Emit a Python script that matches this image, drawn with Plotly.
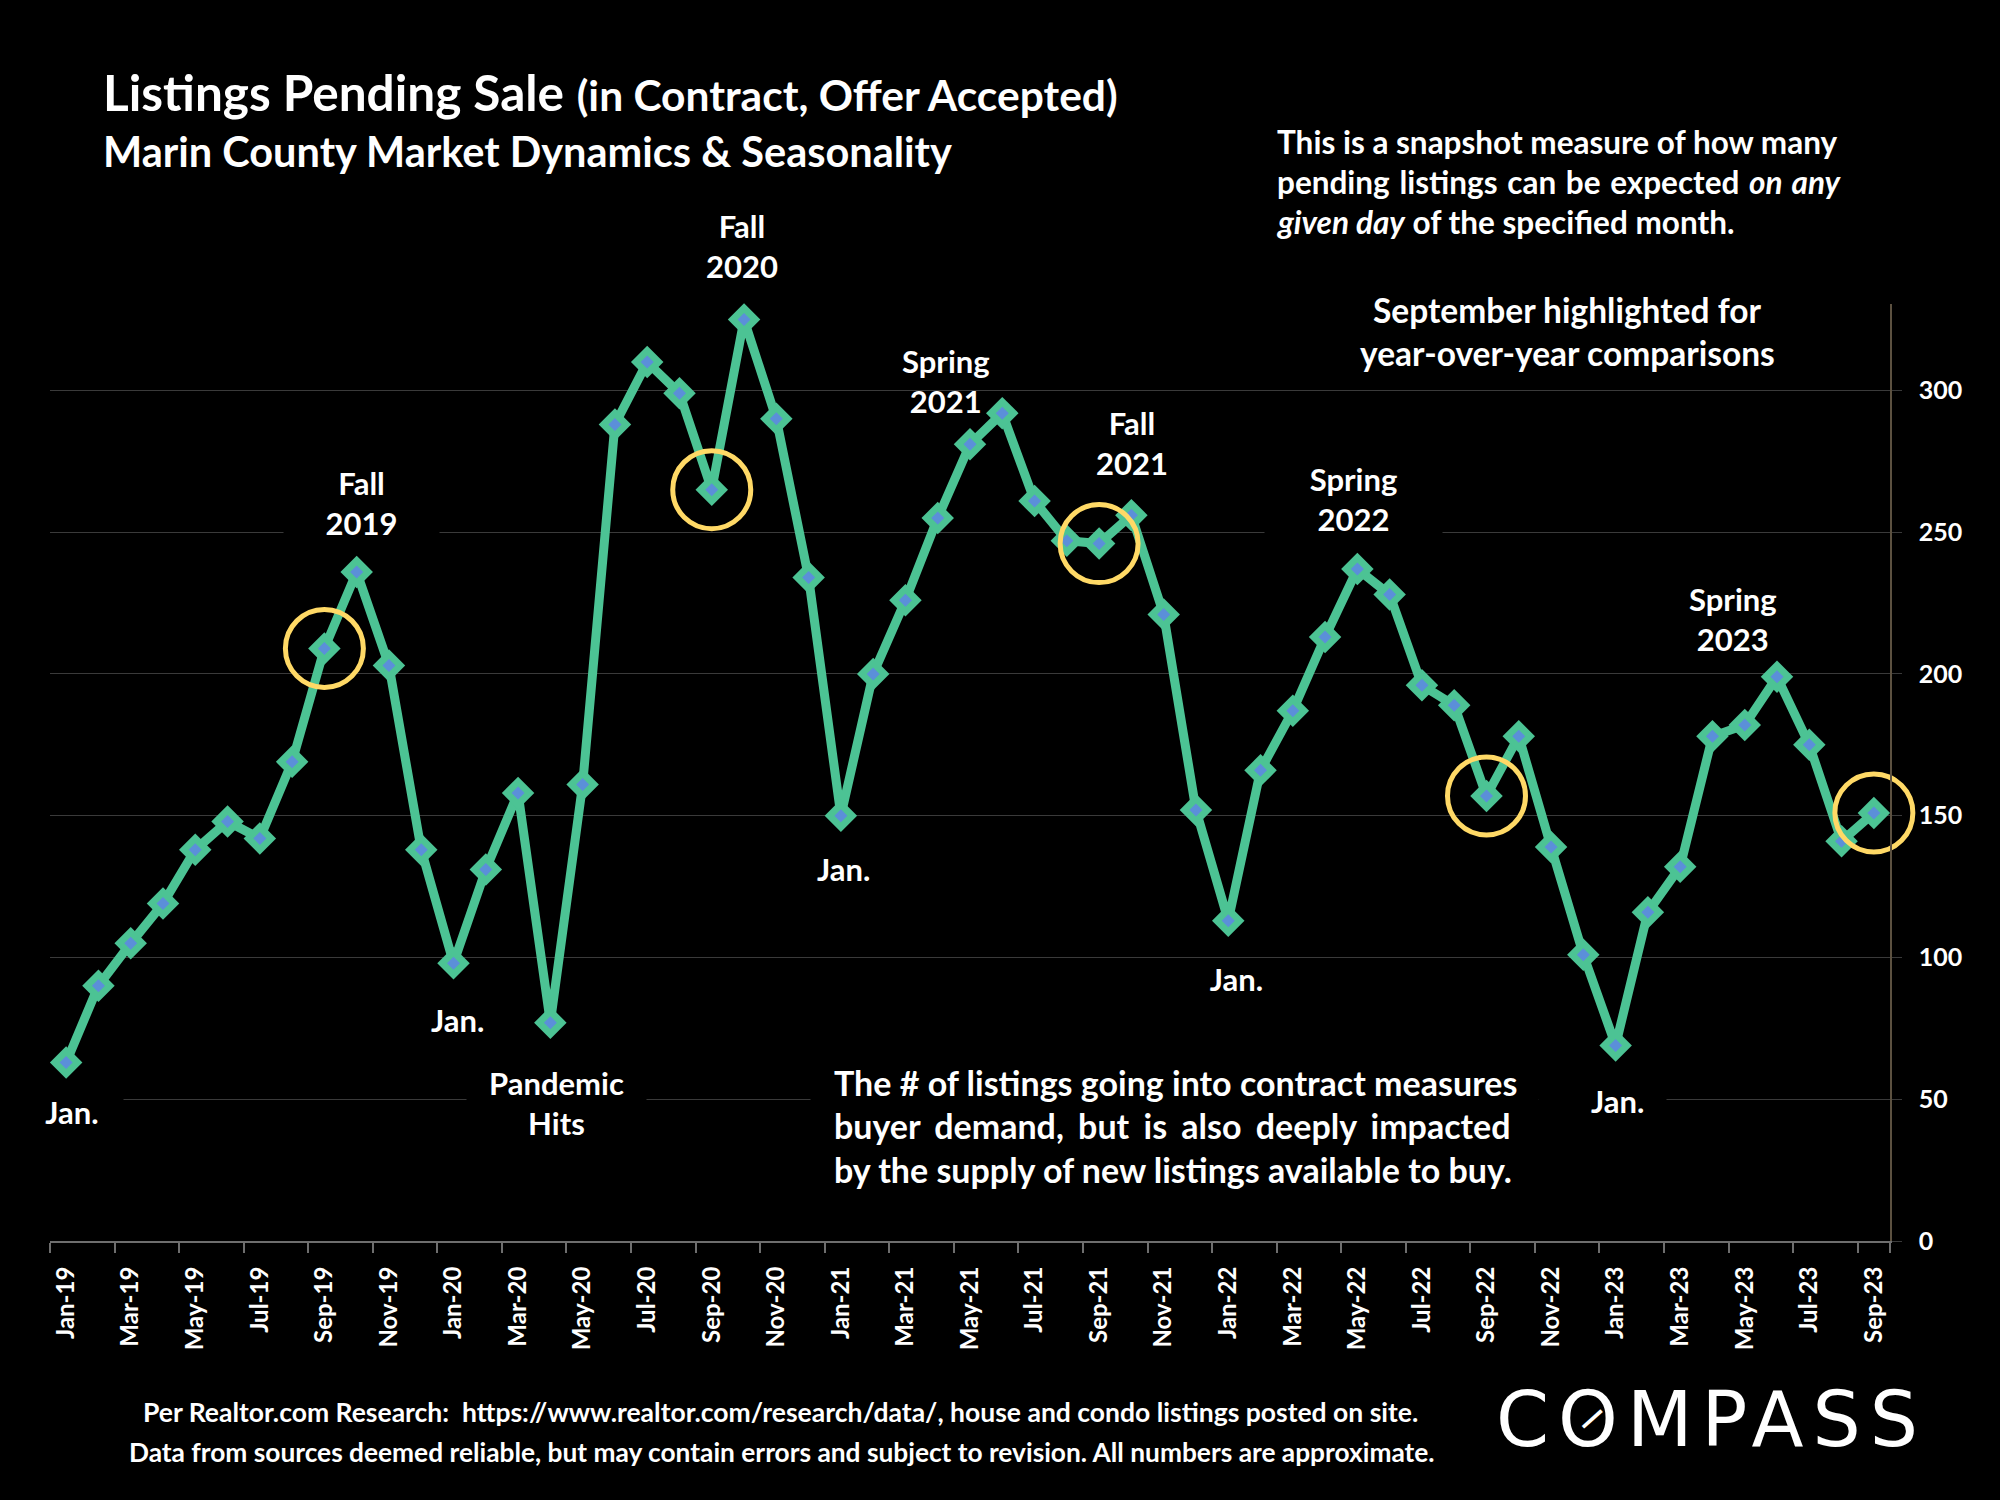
import plotly.graph_objects as go

months = ["Jan", "Feb", "Mar", "Apr", "May", "Jun", "Jul", "Aug", "Sep", "Oct", "Nov", "Dec"]
categories = [f"{m}-{y}" for y in ("19", "20", "21", "22") for m in months] + [f"{m}-23" for m in months[:9]]
values = [63, 90, 105, 119, 138, 148, 142, 169, 209, 236, 203, 138,
          98, 131, 158, 77, 161, 288, 310, 299, 265, 325, 290, 234,
          150, 200, 226, 255, 281, 292, 261, 247, 246, 256, 221, 152,
          113, 166, 187, 213, 237, 228, 196, 189, 157, 178, 139, 101,
          69, 116, 132, 178, 182, 199, 175, 141, 151]
highlight = ["Sep-19", "Sep-20", "Sep-21", "Sep-22", "Sep-23"]
highlight_values = [values[categories.index(c)] for c in highlight]
y_ticks = [0, 50, 100, 150, 200, 250, 300]

FONT = "Lato, Carlito, Calibri, sans-serif"
L, R, T, B = 50, 1890, 304, 1241.5
W, H = 2000, 1500

fig = go.Figure()
fig.add_trace(go.Scatter(x=categories, y=values, mode="lines+markers", cliponaxis=False,
                         line=dict(color="#4CC394", width=9),
                         marker=dict(symbol="diamond", size=25, color="#4CC394"),
                         hoverinfo="skip", showlegend=False))
fig.add_trace(go.Scatter(x=categories, y=values, mode="markers", cliponaxis=False,
                         marker=dict(symbol="diamond", size=10, color="#5B8FD9"),
                         hoverinfo="skip", showlegend=False))
fig.add_trace(go.Scatter(x=highlight, y=highlight_values, mode="markers", cliponaxis=False,
                         marker=dict(symbol="circle", size=78, color="rgba(0,0,0,0)",
                                     line=dict(color="#FFD966", width=5)),
                         hoverinfo="skip", showlegend=False))

def note(text, cx, cy, size, anchor="center", align="center", box=None, color="white", family=FONT, angle=0):
    a = dict(text=text, xref="paper", yref="paper",
             x=(cx - L) / (R - L), y=(B - cy) / (B - T),
             xanchor=anchor, yanchor="middle", align=align, showarrow=False, textangle=angle,
             font=dict(family=family, size=size, color=color))
    if box:
        a.update(bgcolor="#000000", width=box)
    fig.add_annotation(**a)

# titles
note("<b>Listings Pending Sale</b> <b><span style='font-size:42.5px'>(in Contract, Offer Accepted)</span></b>", 101, 92, 49.5, "left", "left")
note("<b>Marin County Market Dynamics &amp; Seasonality</b>", 101, 151, 41.5, "left", "left")

# top-right notes
note("<b>This is a snapshot measure of how many</b>", 1275, 142, 31.5, "left", "left")
note("<b><span style='word-spacing:2px'>pending listings can be expected <i>on any</i></span></b>", 1275, 182, 31.5, "left", "left")
note("<b><i>given day</i> of the specified month.</b>", 1275, 222, 31.5, "left", "left")
note("<b>September highlighted for</b>", 1567, 310, 33.5)
note("<b>year-over-year comparisons</b>", 1567, 353, 33.5)

# black plates that interrupt the gridlines behind the text
note("&nbsp;", 1174.5, 1100, 20, box=725)
note("&nbsp;", 1602, 1100, 20, box=125)

# period labels
for txt, cx, cy, box in [
    ("<b>Fall<br>2019</b>", 361, 503, 153),
    ("<b>Fall<br>2020</b>", 742, 246, None),
    ("<b>Spring<br>2021</b>", 946, 381, None),
    ("<b>Fall<br>2021</b>", 1132, 443, None),
    ("<b>Spring<br>2022</b>", 1353, 499, 175),
    ("<b>Spring<br>2023</b>", 1733, 619, None),
    ("<b>Pandemic<br>Hits</b>", 556, 1103, 177),
]:
    note(txt, cx, cy, 31, box=box)

for cx, cy, box in [(72, 1112, 100), (457, 1020, None), (843, 869, None),
                    (1236, 979, 99), (1617, 1101, None)]:
    note("<b>Jan.</b>", cx, cy, 31, box=box)

# lower body text
note("<b>The # of listings going into contract measures</b>", 832, 1083, 34, "left", "left")
note("<b><span style='word-spacing:6px'>buyer demand, but is also deeply impacted</span></b>", 832, 1126, 34, "left", "left")
note("<b>by the supply of new listings available to buy.</b>", 832, 1170, 34, "left", "left")

# footer
note("<b>Per Realtor.com Research:  https://www.realtor.com/research/data/, house and condo listings posted on site.</b>", 780, 1413, 26.5)
note("<b>Data from sources deemed reliable, but may contain errors and subject to revision. All numbers are approximate.</b>", 782, 1453, 26.3)

# wordmark
note("<span style='letter-spacing:9px'>COMPASS</span>", 1711, 1420, 76, family="DejaVu Sans")
note("<b>—</b>", 1591, 1418, 28, family="DejaVu Sans", angle=-42)

fig.update_layout(
    width=W, height=H, paper_bgcolor="#000000", plot_bgcolor="#000000",
    margin=dict(l=L, r=W - R, t=T, b=H - B, pad=0),
    showlegend=False,
    font=dict(family=FONT, color="white"),
    xaxis=dict(type="category", categoryarray=categories, categoryorder="array", tickmode="array",
               tickvals=categories[::2], ticktext=categories[::2], tickson="boundaries",
               range=[-0.5, 56.5],
               tickangle=-90, ticks="outside", ticklen=10, tickwidth=1.5, tickcolor="#6e6e6e",
               showline=True, linecolor="#6e6e6e", linewidth=2, showgrid=False, zeroline=False,
               tickfont=dict(family=FONT, size=24, color="white", weight=700), ticklabelstandoff=14),
    yaxis=dict(side="right", range=[0, 330.5], tickmode="array", tickvals=y_ticks,
               ticks="outside", ticklen=10, tickcolor="#3a3a3a", showgrid=True, gridcolor="#3a3a3a",
               gridwidth=1, zeroline=False, showline=True, linecolor="#5c5140", linewidth=1.5,
               tickfont=dict(family=FONT, size=25, color="white", weight=700), ticklabelstandoff=12),
)

fig.write_html("out.html", config={"displayModeBar": False},
               post_script="document.body.style.margin='0';document.body.style.background='#000';")
